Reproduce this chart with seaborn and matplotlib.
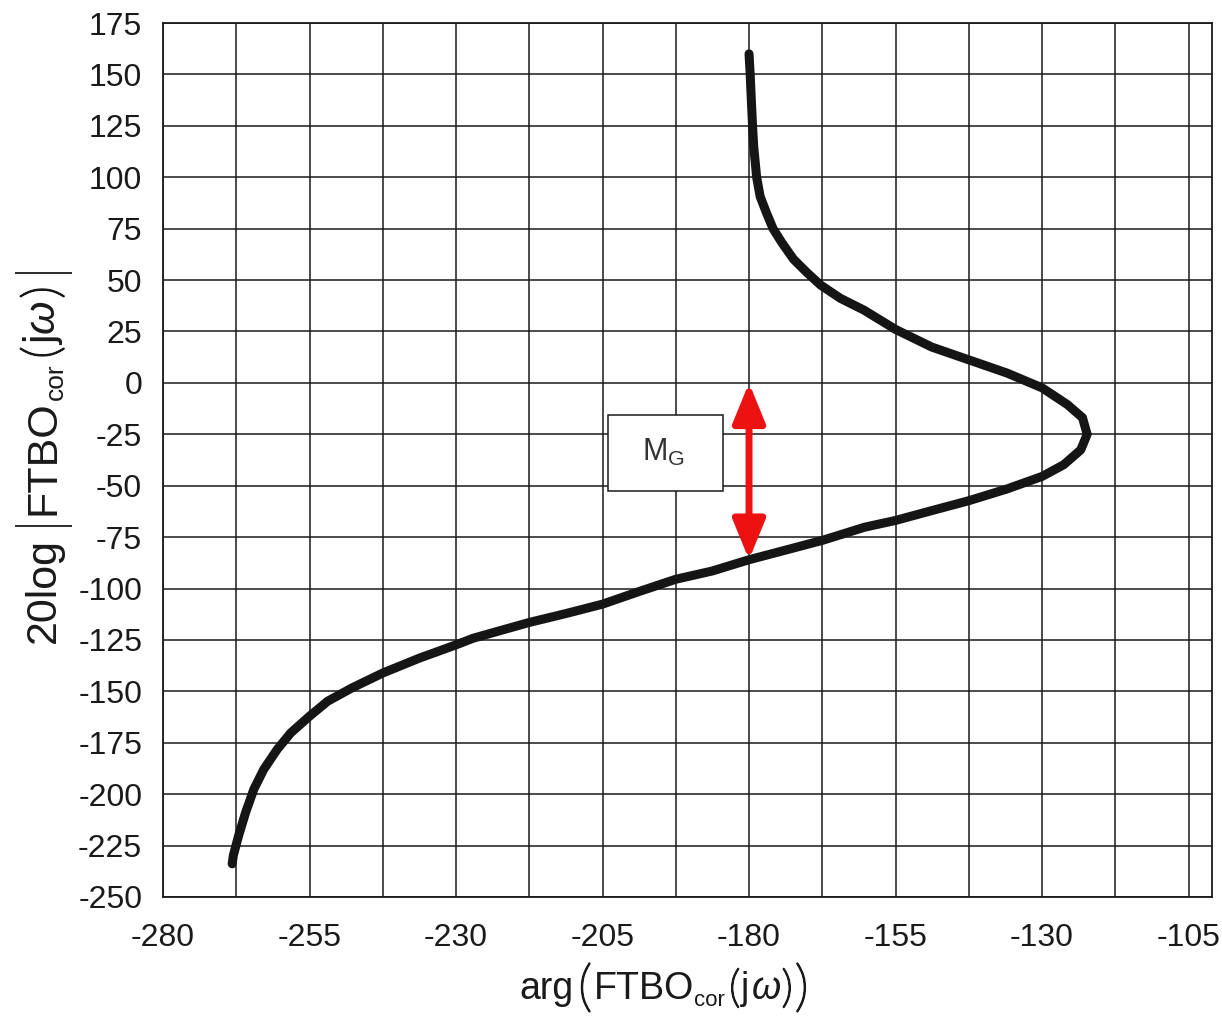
import matplotlib
matplotlib.use("Agg")
import matplotlib.pyplot as plt
import matplotlib.patheffects as pe
import numpy as np
import pandas as pd
import seaborn as sns
from matplotlib.patches import Rectangle
from matplotlib.ticker import FixedLocator
from matplotlib.transforms import IdentityTransform

sns.set_style("white")
plt.rcParams["font.family"] = ["Liberation Sans", "DejaVu Sans"]
plt.rcParams["axes.unicode_minus"] = False
plt.rcParams["mathtext.fontset"] = "custom"
plt.rcParams["mathtext.rm"] = "Liberation Sans"
plt.rcParams["mathtext.it"] = "Liberation Sans:italic"

# Nichols locus, ordered from high to low gain
phase_deg = [
    -180.0, -179.8, -179.6, -179.4, -179.2, -178.7, -178.1, -177.0, -175.9,
    -174.4, -172.4, -170.1, -167.8, -164.4, -160.4, -155.0, -148.8, -142.5,
    -136.0, -130.0, -125.7, -123.1, -122.3, -123.4, -126.3, -130.0, -136.0,
    -142.5, -148.8, -155.0, -160.3, -167.5, -174.0, -180.0, -186.3, -192.5,
    -198.8, -205.0, -211.0, -217.5, -222.5, -227.1, -230.0, -236.3, -242.5,
    -247.8, -251.9, -255.0, -258.2, -260.5, -262.8, -264.5, -265.9, -267.1,
    -268.0, -268.2,
]
gain_db = [
    160, 150, 137, 125, 115, 100, 90.6, 82.5, 75,
    68.2, 60.1, 53.6, 47.6, 41.1, 35.4, 26.0, 17.4, 11.2,
    4.8, -2.4, -10.5, -16.9, -25.0, -32.6, -39.8, -45.5, -51.6,
    -57.3, -62.1, -66.9, -70.2, -76.6, -81.5, -86.0, -91.5, -95.5,
    -101.5, -107.6, -112.0, -116.5, -120.5, -124.2, -127.4, -133.9, -141.1,
    -148.4, -154.8, -162.1, -170.2, -178.2, -187.9, -197.6, -208.9, -220.2,
    -229.8, -233.9,
]
x_ticks = list(range(-280, -104, 25))
y_ticks = list(range(-250, 176, 25))
margin_phase = -180
margin_top, margin_bottom = 0, -86.0

df = pd.DataFrame({"phase": phase_deg, "gain": gain_db})

INK = "#1a1a1a"
R = ["Liberation Sans", "DejaVu Sans"]
THIN = ["Lato", "Liberation Sans"]

fig = plt.figure(figsize=(12.22, 10.23), dpi=100)
ax = fig.add_axes([0.1334, 0.1232, 0.8584, 0.8543])

ax.set_xlim(-280, -101)
ax.set_ylim(-250, 175)
ax.set_xticks(x_ticks)
ax.set_yticks(y_ticks)
ax.xaxis.set_minor_locator(FixedLocator(np.arange(-267.5, -101, 25)))
ax.grid(which="both", color=INK, linewidth=1.1)
ax.set_axisbelow(True)
ax.tick_params(axis="both", which="major", direction="out", length=8,
               width=1.1, color=INK, labelsize=23, labelcolor=INK)
ax.tick_params(axis="x", pad=11)
ax.tick_params(axis="y", pad=7)
ax.tick_params(which="minor", length=0)
for sp in ax.spines.values():
    sp.set_color(INK)
    sp.set_linewidth(1.3)

sns.lineplot(data=df, x="phase", y="gain", sort=False, estimator=None,
             color="#151515", linewidth=6.5, ax=ax, zorder=3)
ax.set_xlabel("")
ax.set_ylabel("")

ax.annotate("", xy=(margin_phase, margin_top), xytext=(margin_phase, margin_bottom),
            arrowprops=dict(arrowstyle="<|-|>,head_length=1.1,head_width=0.45",
                            mutation_scale=22, color="#ee1111", lw=5,
                            shrinkA=0, shrinkB=0), zorder=4)

ax.add_patch(Rectangle((-204.1, -52.4), 19.6, 36.9, facecolor="white",
                       edgecolor=INK, linewidth=1.1, zorder=4))
ax.text(-194.6, -34, r"M$_{\mathrm{G}}$", ha="center", va="center",
        fontsize=22, color="#333333", zorder=5)


def draw_label(x0, y0, pieces, vertical=False):
    # lay out text pieces one after another (pixel coords), so the
    # brackets can be taller than the letters like in the scan
    renderer = fig.canvas.get_renderer()
    pos = y0 if vertical else x0
    for s, size, shift, gap, fam in pieces:
        pos += gap
        kw = dict(fontsize=size, color=INK, family=fam,
                  ha="left", va="baseline", transform=IdentityTransform())
        if fam is THIN:
            # light brackets, thickened a little
            kw["fontweight"] = "light"
            kw["path_effects"] = [pe.withStroke(linewidth=1.3, foreground=INK)]
        if vertical:
            t = fig.text(x0 - shift, pos, s, rotation=90, rotation_mode="anchor", **kw)
            pos += t.get_window_extent(renderer).height
        else:
            t = fig.text(pos, y0 + shift, s, **kw)
            pos += t.get_window_extent(renderer).width


draw_label(519, 24, [
    ("arg", 27, 0, 0, R), ("(", 40, -6, 5, THIN),
    ("FTBO", 27, 0, 2, R), ("cor", 16, -7, 0, R),
    ("(", 32, -3, 4, THIN), ("j", 27, 0, 1, R),
    (r"$\omega$", 27, 0, 1, R), (")", 32, -3, 1, THIN),
    (")", 40, -6, 2, THIN),
])
draw_label(55, 380, [
    ("20log", 31, 0, 0, R), ("|", 44, -6, 5, THIN),
    ("FTBO", 31, 0, 4, R), ("cor", 19, -8, 0, R),
    ("(", 36, -3, 5, THIN), ("j", 31, 0, 1, R),
    (r"$\omega$", 31, 0, 1, R), (")", 36, -3, 2, THIN),
    ("|", 44, -6, 6, THIN),
], vertical=True)

fig.savefig("out.png", dpi=100)
plt.close(fig)
